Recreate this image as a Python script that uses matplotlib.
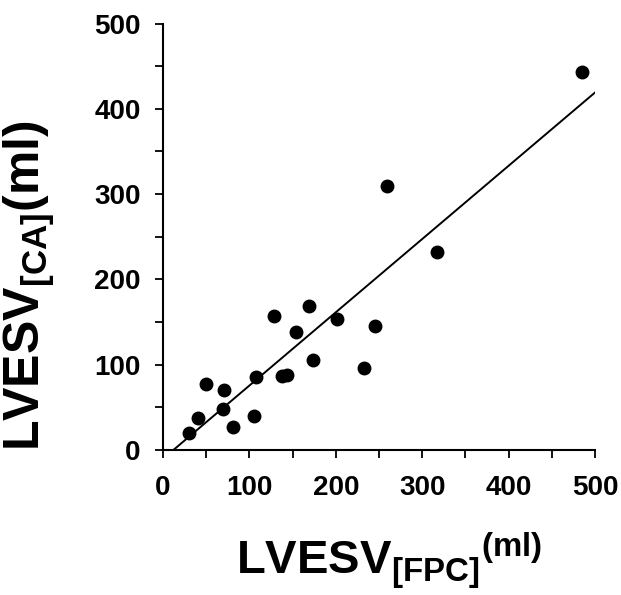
import numpy as np
import matplotlib.pyplot as plt

# values
fpc = [30.5, 40.6, 49.9, 70.3, 69.2, 81.6, 105.5, 108.2, 128.7, 137.2, 143.0,
       153.5, 169.0, 173.2, 201.4, 232.4, 245.5, 259.0, 316.7, 485.0]
ca = [19.6, 37.9, 77.0, 70.3, 48.0, 26.6, 39.5, 85.6, 156.7, 87.0, 88.3,
      138.3, 168.8, 105.5, 153.6, 95.8, 145.7, 309.9, 231.8, 443.5]

fit_x = [12, 500]
fit_y = [0, 419]

major_ticks = [0, 100, 200, 300, 400, 500]
minor_ticks = [50, 150, 250, 350, 450]

plt.rcParams['mathtext.fontset'] = 'custom'
plt.rcParams['mathtext.bf'] = 'Liberation Sans:bold'
plt.rcParams['mathtext.rm'] = 'Liberation Sans:bold'
plt.rcParams['font.family'] = 'Liberation Sans'

fig = plt.figure(figsize=(6.21, 5.95), dpi=100)
ax = fig.add_axes([0.2625, 0.2437, 0.6955, 0.7168])

ax.plot(fpc, ca, 'o', color='black', ms=9, mec='black')
ax.plot(fit_x, fit_y, '-', color='black', lw=1.4)

ax.set_xlim(0, 500)
ax.set_ylim(0, 500)
ax.set_xticks(major_ticks)
ax.set_yticks(major_ticks)
ax.set_xticks(minor_ticks, minor=True)
ax.set_yticks(minor_ticks, minor=True)
ax.tick_params(which='both', direction='out', length=6, width=1.3)
ax.tick_params(axis='x', labelsize=20, pad=12)
ax.tick_params(axis='y', labelsize=20, pad=10)
for lab in ax.get_xticklabels() + ax.get_yticklabels():
    lab.set_fontweight('bold')

for s in ['top', 'right']:
    ax.spines[s].set_visible(False)
for s in ['left', 'bottom']:
    ax.spines[s].set_linewidth(1.5)

fig.text(0.626, 0.057, r'$\mathbf{LVESV}_{\mathbf{[FPC]}}{}^{\mathbf{(ml)}}$',
         fontsize=34, ha='center', va='center')
fig.text(0.048, 0.52, r'$\mathbf{LVESV}_{\mathbf{[CA]}}\mathbf{(ml)}$',
         fontsize=36, ha='center', va='center', rotation=90)

fig.savefig('out.png', dpi=100)
